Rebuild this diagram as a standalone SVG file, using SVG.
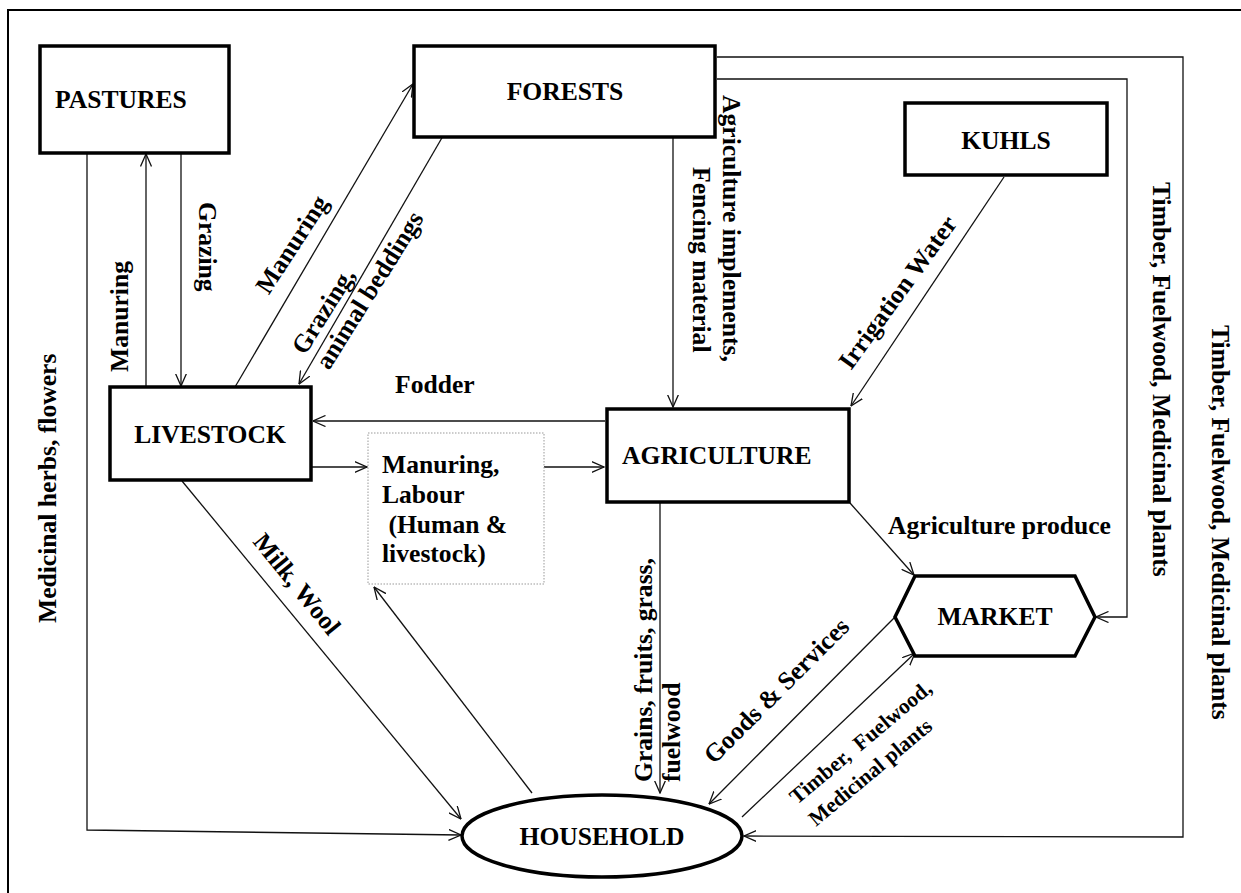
<svg xmlns="http://www.w3.org/2000/svg" width="1241" height="893" viewBox="0 0 1241 893">
<defs>
<style>
text{font-family:"Liberation Serif","Times New Roman",serif;font-weight:bold;font-size:25.6px;fill:#000}
.box{fill:#fff;stroke:#000;stroke-width:3.5}
.dot{fill:#fff;stroke:#999;stroke-width:1;stroke-dasharray:1.5,1.5}
.c{fill:none;stroke:#111;stroke-width:1.3;marker-end:url(#ah)}
.sm{font-size:21.5px}
</style>
<marker id="ah" viewBox="0 0 13 12" refX="12.5" refY="6" markerWidth="13" markerHeight="12" markerUnits="userSpaceOnUse" orient="auto">
<path d="M0,0.5 L12.5,6 L0,11.5" fill="none" stroke="#111" stroke-width="1.3"/>
</marker>
</defs>
<rect width="1241" height="893" fill="#fff"/>
<path d="M8,893 L8,10 L1241,10" fill="none" stroke="#000" stroke-width="2"/>

<g id="connectors">
<path class="c" d="M181,153 L181,386"/>
<path class="c" d="M146,387 L146,154"/>
<path class="c" d="M87,153 L87,830 L461,835"/>
<path class="c" d="M235,387 L413,84"/>
<path class="c" d="M443,136 L299,384"/>
<path class="c" d="M673,137 L673,407"/>
<path class="c" d="M1004,177 L851,406"/>
<path class="c" d="M605,421 L313,421"/>
<path class="c" d="M312,467 L367,467"/>
<path class="c" d="M544,467 L604,467"/>
<path class="c" d="M850,503 L914,575"/>
<path class="c" d="M660,503 L660,793"/>
<path class="c" d="M182,481 L461,819"/>
<path class="c" d="M532,793 L374,587"/>
<path class="c" d="M895,617 L709,804"/>
<path class="c" d="M742,817 L915,653"/>
<path class="c" d="M717,79 L1127,79 L1127,617 L1096,617"/>
<path class="c" d="M717,57 L1183,57 L1183,837 L744,836"/>
</g>

<g id="pastures">
<rect class="box" x="40" y="46" width="189" height="107"/>
<text x="55" y="108">PASTURES</text>
</g>
<g id="forests">
<rect class="box" x="414" y="46" width="301" height="91"/>
<text x="565" y="100" text-anchor="middle">FORESTS</text>
</g>
<g id="kuhls">
<rect class="box" x="905" y="103" width="202" height="72"/>
<text x="1006" y="149" text-anchor="middle">KUHLS</text>
</g>
<g id="livestock">
<rect class="box" x="110" y="387" width="201" height="93"/>
<text x="210" y="443" text-anchor="middle">LIVESTOCK</text>
</g>
<g id="agriculture">
<rect class="box" x="607" y="409" width="242" height="93"/>
<text x="622" y="464">AGRICULTURE</text>
</g>
<g id="manuring-labour">
<rect class="dot" x="368" y="433" width="176" height="151"/>
<text x="382" y="473">Manuring,</text>
<text x="382" y="503">Labour</text>
<text x="382" y="533">&#160;(Human &amp;</text>
<text x="382" y="562">livestock)</text>
</g>
<g id="market">
<path d="M915,576 L1075,576 L1095,617 L1075,656 L915,656 L895,617 Z" fill="#fff" stroke="#000" stroke-width="3.5"/>
<text x="995" y="625" text-anchor="middle">MARKET</text>
</g>
<g id="household">
<ellipse cx="602" cy="836" rx="140" ry="41" fill="#fff" stroke="#000" stroke-width="3.5"/>
<text x="602" y="845" text-anchor="middle">HOUSEHOLD</text>
</g>

<g id="labels">
<text transform="translate(128,372) rotate(-90)">Manuring</text>
<text transform="translate(199,202) rotate(90)">Grazing</text>
<text transform="translate(56,623) rotate(-90)">Medicinal herbs, flowers</text>
<text transform="translate(299,249) rotate(-57)" text-anchor="middle">Manuring</text>
<text transform="translate(305,356) rotate(-58)">Grazing,</text>
<text transform="translate(329,371) rotate(-58)">animal beddings</text>
<text transform="translate(723,95) rotate(90)">Agriculture implements,</text>
<text transform="translate(693,167) rotate(90)">Fencing material</text>
<text transform="translate(851,371) rotate(-54)">Irrigation Water</text>
<text x="395" y="393">Fodder</text>
<text x="888" y="534">Agriculture produce</text>
<text transform="translate(252,542) rotate(51)">Milk, Wool</text>
<text transform="translate(652,782) rotate(-90)">Grains, fruits, grass,</text>
<text transform="translate(680,782) rotate(-90)">fuelwood</text>
<text transform="translate(714,765) rotate(-45)">Goods &amp; Services</text>
<text class="sm" transform="translate(797,805) rotate(-40)">Timber,&#160; Fuelwood,</text>
<text class="sm" transform="translate(816,827) rotate(-40)">Medicinal plants</text>
<text transform="translate(1153,182) rotate(90)">Timber, Fuelwood, Medicinal plants</text>
<text transform="translate(1212,325) rotate(90)">Timber, Fuelwood, Medicinal plants</text>
</g>
</svg>
